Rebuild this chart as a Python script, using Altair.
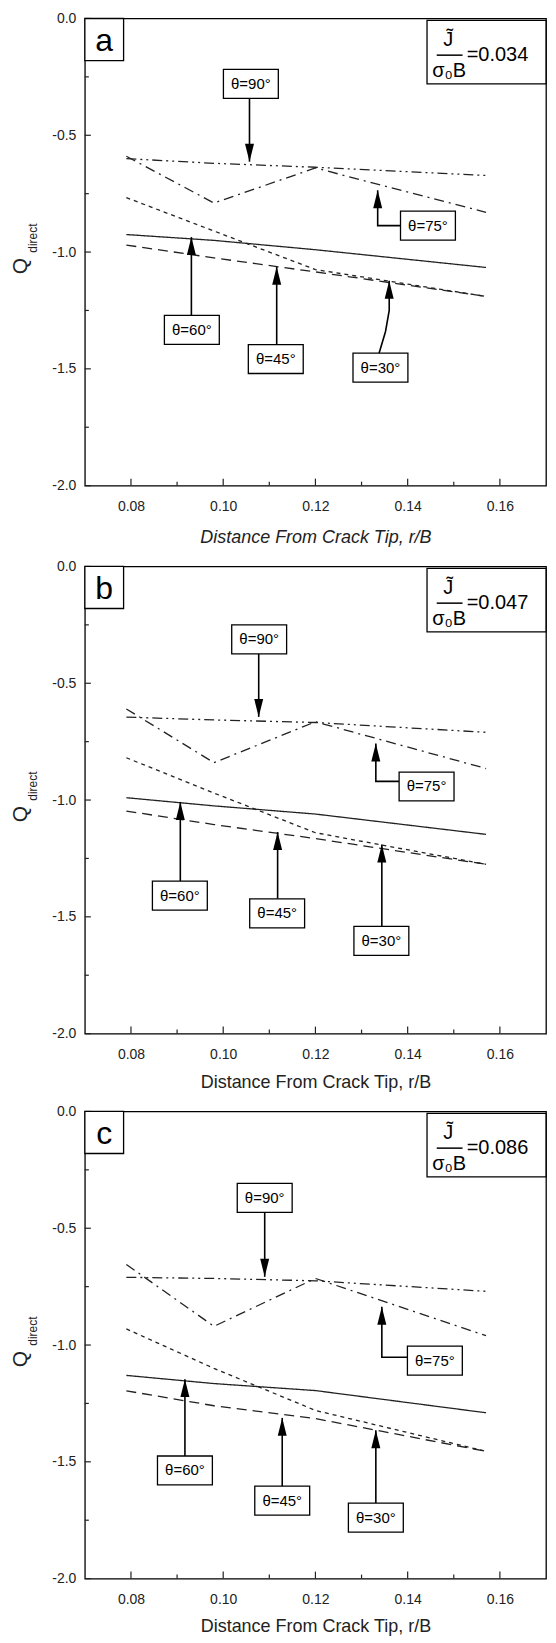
import altair as alt
import pandas as pd

# ---------------- data ----------------
R_OVER_B = [0.079, 0.098, 0.120, 0.157]
THETA_LABELS = ["θ=30°", "θ=45°", "θ=60°", "θ=75°", "θ=90°"]

# panel a  (J/σ0B = 0.034)
A_Q30 = [-0.970, -1.025, -1.085, -1.190]
A_Q45 = [-0.767, -0.910, -1.075, -1.190]
A_Q60 = [-0.925, -0.950, -0.990, -1.066]
A_Q75 = [-0.590, -0.790, -0.640, -0.830]
A_Q90 = [-0.600, -0.620, -0.637, -0.672]

# panel b  (J/σ0B = 0.047)
B_Q30 = [-1.047, -1.105, -1.165, -1.275]
B_Q45 = [-0.819, -0.970, -1.140, -1.275]
B_Q60 = [-0.990, -1.025, -1.060, -1.147]
B_Q75 = [-0.610, -0.840, -0.665, -0.865]
B_Q90 = [-0.645, -0.657, -0.668, -0.710]

# panel c  (J/σ0B = 0.086)
C_Q30 = [-1.196, -1.260, -1.315, -1.455]
C_Q45 = [-0.931, -1.100, -1.280, -1.455]
C_Q60 = [-1.130, -1.165, -1.195, -1.290]
C_Q75 = [-0.655, -0.920, -0.715, -0.960]
C_Q90 = [-0.710, -0.715, -0.725, -0.770]

PANEL_IDS = ["a", "b", "c"]
J_VALUES = ["=0.034", "=0.047", "=0.086"]

# annotation boxes (data coordinates), order as THETA_LABELS
A_BOX_X = [0.1341, 0.1114, 0.0932, 0.1444, 0.1060]
A_BOX_Q = [-1.495, -1.458, -1.333, -0.887, -0.280]
A_ARROW_X = [[0.1338, 0.1352, 0.1360, 0.1360], [0.1116, 0.1116], [0.0931, 0.0931],
             [0.1385, 0.1335, 0.1335], [0.1057, 0.1057]]
A_ARROW_Q = [[-1.433, -1.340, -1.250, -1.123], [-1.397, -1.063], [-1.271, -0.936],
             [-0.887, -0.887, -0.735], [-0.339, -0.613]]

B_BOX_X = [0.1343, 0.1117, 0.0906, 0.1441, 0.1078]
B_BOX_Q = [-1.603, -1.485, -1.409, -0.942, -0.312]
B_ARROW_X = [[0.1344, 0.1344], [0.1118, 0.1118], [0.0907, 0.0907],
             [0.1381, 0.1331, 0.1331], [0.1077, 0.1077]]
B_ARROW_Q = [[-1.541, -1.190], [-1.423, -1.137], [-1.347, -1.008],
             [-0.920, -0.920, -0.758], [-0.374, -0.644]]

C_BOX_X = [0.1331, 0.1128, 0.0917, 0.1459, 0.1090]
C_BOX_Q = [-1.739, -1.666, -1.537, -1.067, -0.370]
C_ARROW_X = [[0.1331, 0.1331], [0.1128, 0.1128], [0.0917, 0.0917],
             [0.1400, 0.1344, 0.1344], [0.1090, 0.1090]]
C_ARROW_Q = [[-1.677, -1.365], [-1.604, -1.312], [-1.475, -1.146],
             [-1.052, -1.052, -0.836], [-0.432, -0.708]]

X_MAJOR = [0.08, 0.10, 0.12, 0.14, 0.16]
X_MINOR = [0.09, 0.11, 0.13, 0.15]
Y_MAJOR = [0.0, -0.5, -1.0, -1.5, -2.0]
Y_MINOR = [-0.25, -0.75, -1.25, -1.75]

# ---------------- styling ----------------
W, H = 462, 468
FONT = "Liberation Sans"
INK = "#222222"
X_DOMAIN = [0.07, 0.17]
Y_DOMAIN = [-2.0, 0.0]
DASHES = [[1, 0], [10, 6], [4, 4], [10, 5, 2, 5], [10, 4, 2, 4, 2, 4]]
DASH_ORDER = ["θ=60°", "θ=30°", "θ=45°", "θ=75°", "θ=90°"]
UP_HEAD = "M0,0L0.5,2L-0.5,2Z"
DOWN_HEAD = "M0,0L0.5,-2L-0.5,-2Z"
BOX_SHAPE = "M-1,-0.527L1,-0.527L1,0.527L-1,0.527Z"
TITLE_PAD = [15, 12, 11]


def make_panel(k, series, box_x, box_q, arrow_x, arrow_q):
    x_axis = alt.Axis(values=X_MAJOR, format=".2f", ticks=False, domain=False, grid=False,
                      labelFontSize=14, labelFont=FONT, labelColor=INK, labelPadding=14,
                      title="Distance From Crack Tip, r/B", titleFont=FONT, titleFontSize=18,
                      titleFontWeight="normal", titleColor=INK,
                      titlePadding=TITLE_PAD[k],
                      titleFontStyle="italic" if k == 0 else "normal")
    y_axis = alt.Axis(values=Y_MAJOR, ticks=False, domain=False, grid=False,
                      labelExpr="datum.value < 0 ? '-' + format(-datum.value, '.1f') : format(datum.value, '.1f')",
                      labelFontSize=14, labelFont=FONT, labelColor=INK, labelPadding=9, title=None)
    xsc = alt.Scale(domain=X_DOMAIN, nice=False, zero=False)
    ysc = alt.Scale(domain=Y_DOMAIN, nice=False, zero=False)

    def X(f):
        return alt.X(f, type="quantitative", scale=xsc, axis=x_axis)

    def Y(f):
        return alt.Y(f, type="quantitative", scale=ysc, axis=y_axis)

    rows = []
    for lab, qv in zip(THETA_LABELS, series):
        for xv, q in zip(R_OVER_B, qv):
            rows.append({"x": xv, "q": q, "theta": lab})
    lines_df = pd.DataFrame(rows)

    lines = alt.Chart(lines_df).mark_line(color=INK, strokeWidth=1.3).encode(
        x=X("x"), y=Y("q"),
        strokeDash=alt.StrokeDash("theta:N", scale=alt.Scale(domain=DASH_ORDER, range=DASHES), legend=None),
        detail="theta:N",
    )

    # inner tick marks
    xt_major = alt.Chart(pd.DataFrame({"x": X_MAJOR})).mark_rule(color=INK, strokeWidth=1.2).encode(
        x=X("x"), y=alt.value(H), y2=alt.value(H - 7))
    xt_minor = alt.Chart(pd.DataFrame({"x": X_MINOR})).mark_rule(color=INK, strokeWidth=1.2).encode(
        x=X("x"), y=alt.value(H), y2=alt.value(H - 4))
    yt_major = alt.Chart(pd.DataFrame({"q": Y_MAJOR})).mark_rule(color=INK, strokeWidth=1.2).encode(
        y=Y("q"), x=alt.value(0), x2=alt.value(6))
    yt_minor = alt.Chart(pd.DataFrame({"q": Y_MINOR})).mark_rule(color=INK, strokeWidth=1.2).encode(
        y=Y("q"), x=alt.value(0), x2=alt.value(4))

    # arrows
    arows, heads = [], []
    for i, (ax, aq) in enumerate(zip(arrow_x, arrow_q)):
        for j, (xv, q) in enumerate(zip(ax, aq)):
            arows.append({"id": i, "o": j, "x": xv, "q": q})
        heads.append({"x": ax[-1], "q": aq[-1], "dir": "up" if aq[-1] > aq[-2] else "down"})
    shafts = alt.Chart(pd.DataFrame(arows)).mark_line(color="black", strokeWidth=1.6).encode(
        x=X("x"), y=Y("q"), detail="id:N", order="o:Q")
    tips = alt.Chart(pd.DataFrame(heads)).mark_point(filled=True, color="black", opacity=1, size=324).encode(
        x=X("x"), y=Y("q"),
        shape=alt.Shape("dir:N", scale=alt.Scale(domain=["up", "down"], range=[UP_HEAD, DOWN_HEAD]), legend=None))

    box_df = pd.DataFrame({"x": box_x, "q": box_q, "t": THETA_LABELS})
    boxes = alt.Chart(box_df).mark_point(shape=BOX_SHAPE, size=3025, filled=True, fill="white",
                                         stroke="black", strokeWidth=1.3, opacity=1).encode(
        x=X("x"), y=Y("q"))
    box_text = alt.Chart(box_df).mark_text(font=FONT, fontSize=15, color="black", baseline="middle").encode(
        x=X("x"), y=Y("q"), text="t:N")

    # panel letter box
    letter_box = alt.Chart(pd.DataFrame({"x": [0.070], "x2": [0.0784], "q": [0.0], "q2": [-0.18]})).mark_rect(
        fill="white", stroke="black", strokeWidth=1.3).encode(
        x=X("x"), x2="x2", y=Y("q"), y2="q2")
    letter = alt.Chart(pd.DataFrame({"x": [0.0742], "q": [-0.095], "t": [PANEL_IDS[k]]})).mark_text(
        font=FONT, fontSize=32, color="black", baseline="middle").encode(
        x=X("x"), y=Y("q"), text="t:N")

    # J / (sigma0 B) box
    j_box = alt.Chart(pd.DataFrame({"x": [0.1442], "x2": [0.170], "q": [-0.008], "q2": [-0.280]})).mark_rect(
        fill="white", stroke="black", strokeWidth=1.3).encode(
        x=X("x"), x2="x2", y=Y("q"), y2="q2")
    j_num = alt.Chart(pd.DataFrame({"x": [0.1488], "q": [-0.092], "t": ["J\u0303"]})).mark_text(
        font=FONT, fontSize=20, color="black", baseline="middle").encode(
        x=X("x"), y=Y("q"), text="t:N")
    j_bar = alt.Chart(pd.DataFrame({"x": [0.1463], "x2": [0.1519], "q": [-0.157]})).mark_rule(
        color="black", strokeWidth=1.5).encode(
        x=X("x"), x2="x2", y=Y("q"))
    j_den = alt.Chart(pd.DataFrame({"x": [0.1490], "q": [-0.225], "t": ["σ\u2080B"]})).mark_text(
        font=FONT, fontSize=20, color="black", baseline="middle").encode(
        x=X("x"), y=Y("q"), text="t:N")
    j_val = alt.Chart(pd.DataFrame({"x": [0.1528], "q": [-0.157], "t": [J_VALUES[k]]})).mark_text(
        font=FONT, fontSize=20, color="black", baseline="middle", align="left").encode(
        x=X("x"), y=Y("q"), text="t:N")

    # y-axis title Q_direct
    q_title = alt.Chart(pd.DataFrame({"t": ["Q"]})).mark_text(
        font=FONT, fontSize=21, color=INK, baseline="middle").encode(
        text="t:N", x=alt.value(-64), y=alt.value(H / 2 + 14), angle=alt.value(270))
    q_sub = alt.Chart(pd.DataFrame({"t": ["direct"]})).mark_text(
        font=FONT, fontSize=12, color=INK, baseline="middle").encode(
        text="t:N", x=alt.value(-52), y=alt.value(H / 2 - 14), angle=alt.value(270))

    return alt.layer(lines, xt_major, xt_minor, yt_major, yt_minor, shafts, tips, boxes, box_text,
                     letter_box, letter, j_box, j_num, j_bar, j_den, j_val, q_title, q_sub).properties(
        width=W, height=H)


pa = make_panel(0, [A_Q30, A_Q45, A_Q60, A_Q75, A_Q90], A_BOX_X, A_BOX_Q, A_ARROW_X, A_ARROW_Q)
pb = make_panel(1, [B_Q30, B_Q45, B_Q60, B_Q75, B_Q90], B_BOX_X, B_BOX_Q, B_ARROW_X, B_ARROW_Q)
pc = make_panel(2, [C_Q30, C_Q45, C_Q60, C_Q75, C_Q90], C_BOX_X, C_BOX_Q, C_ARROW_X, C_ARROW_Q)

chart = alt.vconcat(pa, pb, pc, spacing=11).properties(
    padding={"left": 1, "top": 1, "right": 0, "bottom": 0}, background="white"
).configure_view(stroke="black", strokeWidth=1.3)

chart.save("out.html", embed_options={"renderer": "svg", "actions": False})
